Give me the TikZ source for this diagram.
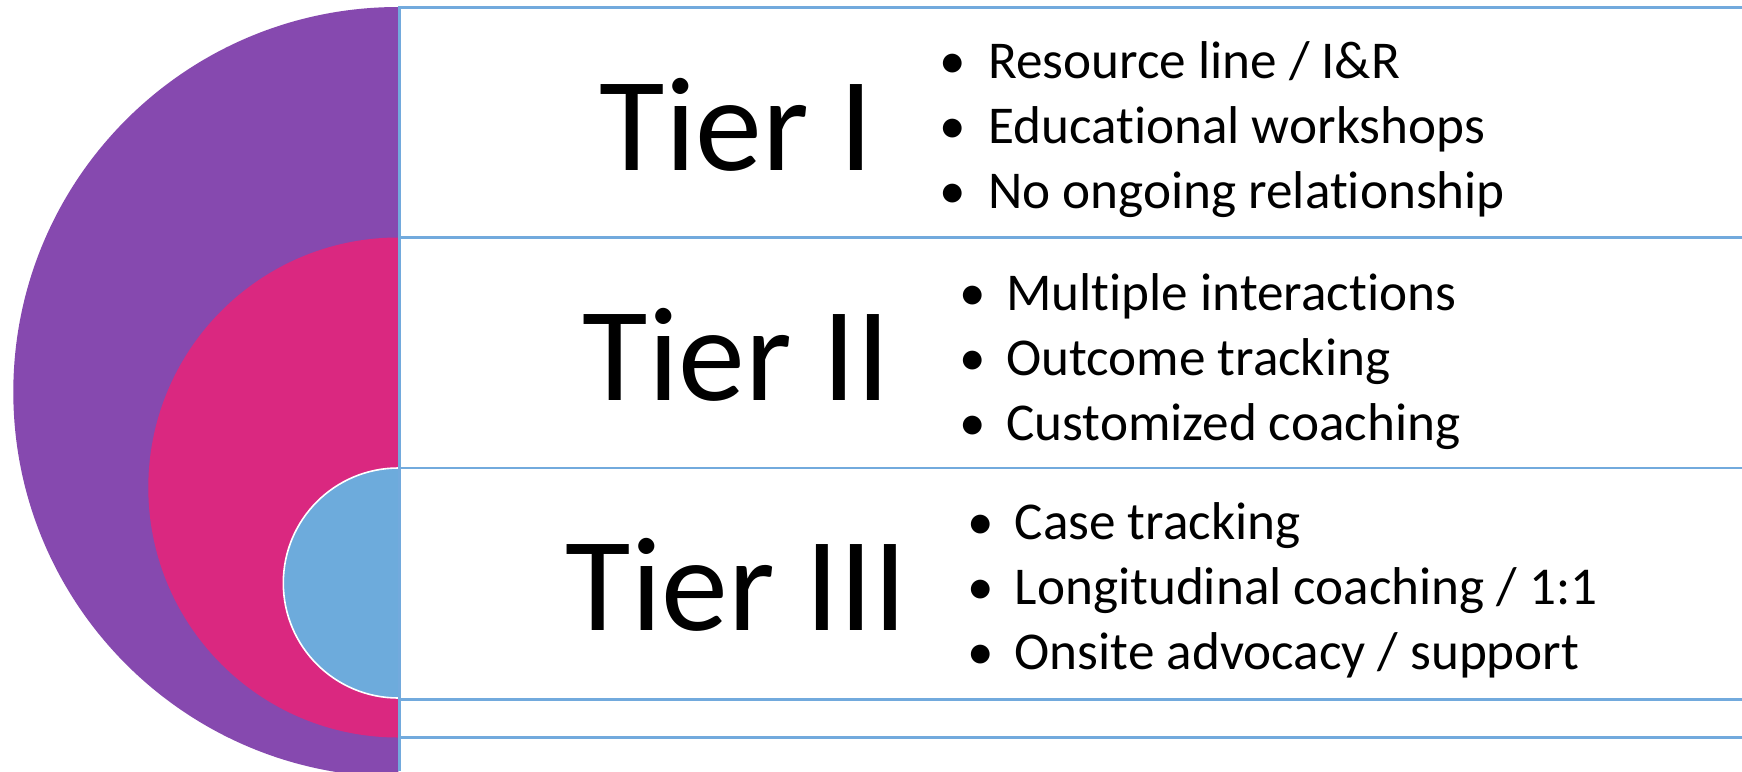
\documentclass[tikz,border=0pt]{standalone}
\usepackage{fontspec}
\setmainfont{Carlito}[Ligatures={NoCommon,NoRare}]
\definecolor{purp}{HTML}{8649AF}
\definecolor{pinkc}{HTML}{DA2880}
\definecolor{bluec}{HTML}{6DABDC}
\definecolor{linec}{HTML}{72AADD}
\tikzset{
  tiername/.style={anchor=base, inner sep=0pt, font=\fontsize{134}{160}\selectfont},
  item/.style={anchor=base west, inner sep=0pt, font=\fontsize{53.2}{64}\selectfont},
  bul/.style={anchor=base, inner sep=0pt, font=\fontsize{53.2}{64}\selectfont},
  rule/.style={draw=linec, line width=2.8pt}
}
\begin{document}
\begin{tikzpicture}[x=1pt,y=1pt]
\useasboundingbox (0,0) rectangle (1742,-771);
\clip (0,0) rectangle (1742,-771);
\fill[white] (0,0) rectangle (1742,-771);
% nested half discs
\fill[purp] (398.3,-7) arc[start angle=90,end angle=270,radius=385] -- cycle;
\fill[pinkc] (398.3,-237.5) arc[start angle=90,end angle=270,radius=250] -- cycle;
\fill[bluec] (398.3,-468) arc[start angle=90,end angle=270,radius=115] -- cycle;
\draw[white, line width=1.6pt] (398.3,-468) arc[start angle=90,end angle=270,radius=115];
% rules
\draw[rule] (399.5,-7.5) -- (1742,-7.5);
\draw[rule] (399.5,-237.5) -- (1742,-237.5);
\draw[rule] (399.5,-468) -- (1742,-468);
\draw[rule] (399.5,-699.3) -- (1742,-699.3);
\draw[rule] (399.5,-737.7) -- (1742,-737.7);
\draw[rule] (399.5,-6.2) -- (399.5,-771);
% tier names
\node[tiername] (t1) at (736.5,-170) {Tier I};
\node[tiername] (t2) at (736.5,-400) {Tier II};
\node[tiername] (t3) at (736.5,-630) {Tier III};
% tier I items
\node[bul] (b11) at (953,-78) {•};
\node[bul] (b12) at (953,-143.3) {•};
\node[bul] (b13) at (953,-208.6) {•};
\node[item] (i11) at (988,-78) {Resource line / I\&R};
\node[item] (i12) at (988,-143.3) {Educational workshops};
\node[item] (i13) at (988,-208.6) {No ongoing relationship};
% tier II items
\node[bul] (b21) at (972.5,-310) {•};
\node[bul] (b22) at (972.5,-375.3) {•};
\node[bul] (b23) at (972.5,-440.6) {•};
\node[item] (i21) at (1006,-310) {Multiple interactions};
\node[item] (i22) at (1006,-375.3) {Outcome tracking};
\node[item] (i23) at (1006,-440.6) {Customized coaching};
% tier III items
\node[bul] (b31) at (980.5,-539) {•};
\node[bul] (b32) at (980.5,-604.3) {•};
\node[bul] (b33) at (980.5,-669.6) {•};
\node[item] (i31) at (1014.5,-539) {Case tracking};
\node[item] (i32) at (1014.5,-604.3) {Longitudinal coaching / 1:1};
\node[item] (i33) at (1014.5,-669.6) {Onsite advocacy / support};
\end{tikzpicture}
\end{document}
